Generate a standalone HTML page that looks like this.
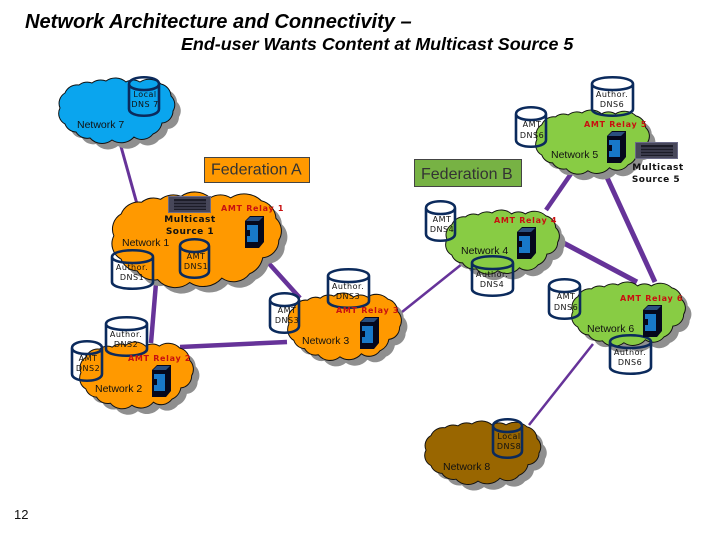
<!DOCTYPE html>
<html><head><meta charset="utf-8"><style>
html,body{margin:0;padding:0;background:#fff}
svg{display:block}
.t1{font:italic bold 20.1px "Liberation Sans",sans-serif;fill:#000}
.t2{font:italic bold 17.9px "Liberation Sans",sans-serif;fill:#000}
.n{font:10.5px "Liberation Sans",sans-serif;fill:#111}
.d{font:8px "DejaVu Sans",sans-serif;fill:#111;text-anchor:middle;letter-spacing:.5px}
.r{font:bold 8px "DejaVu Sans",sans-serif;fill:#c81010;letter-spacing:.7px}
.m{font:bold 9px "DejaVu Sans",sans-serif;fill:#111;text-anchor:middle;letter-spacing:.5px}
.f{font:16px "Liberation Sans",sans-serif;fill:#333}
</style></head><body>
<svg width="720" height="540" viewBox="0 0 720 540" xmlns="http://www.w3.org/2000/svg">
<defs>
<path id="c" d="M4 30A12 12 0 0 1 9 15A13 13 0 0 1 23 7A13 13 0 0 1 36 5A14 14 0 0 1 50 3A16 16 0 0 1 70 4A13 13 0 0 1 84 4A17 17 0 0 1 105 6A13 13 0 0 1 115 18A12 12 0 0 1 117 33A12 12 0 0 1 106 45A15 15 0 0 1 97 56A14 14 0 0 1 78 59A17 17 0 0 1 56 62A16 16 0 0 1 34 60A13 13 0 0 1 20 54A12 12 0 0 1 9 46A12 12 0 0 1 4 30Z"/>
<g id="srv">
<path d="M0 5L5 0H19V26L14 32H0Z" fill="#05081c"/>
<rect x="2" y="9" width="11" height="17" fill="#1878c8"/>
<rect x="2" y="14" width="3" height="6" fill="#05081c"/>
<path d="M1 5L5 1H18L14 5Z" fill="#2a4f80"/>
</g>
<g id="rack">
<rect width="43" height="17" fill="#47475a"/>
<rect x="6" y="3" width="32" height="11" fill="#1c1c28"/>
<path d="M6 6H38M6 9H38M6 12H38" stroke="#55556a" stroke-width="1"/>
<rect x=".5" y=".5" width="42" height="16" fill="none" stroke="#6a6a88"/>
</g>
</defs>

<!-- connectors -->
<g stroke="#663399" fill="none" stroke-linecap="butt">
<path d="M120 143L137 204" stroke-width="3"/>
<path d="M156 283L151 343" stroke-width="4.5"/>
<path d="M264 258L300 298" stroke-width="4.5"/>
<path d="M180 347L287 342" stroke-width="4.5"/>
<path d="M402 312L462 264" stroke-width="2.5"/>
<path d="M546 210L575 168" stroke-width="4.5"/>
<path d="M558 240L637 282" stroke-width="5"/>
<path d="M605 173L655 282" stroke-width="5"/>
<path d="M593 344L529 425" stroke-width="2.5"/>
</g>

<!-- shadows and clouds -->
<g fill="#8f8f8f">
<use href="#c" transform="translate(62,84)"/>
<use href="#c" transform="translate(114,198) scale(1.46,1.46)"/>
<use href="#c" transform="translate(83,348) scale(.98,1.02)"/>
<use href="#c" transform="translate(291,299) scale(.98,1.03)"/>
<use href="#c" transform="translate(449,216) scale(.98,.98)"/>
<use href="#c" transform="translate(539,116) scale(.98,.98)"/>
<use href="#c" transform="translate(575,288) scale(.98,.98)"/>
<use href="#c" transform="translate(428,427) scale(1,.97)"/>
</g>
<g stroke="#111" stroke-width="1">
<use href="#c" transform="translate(56,78)" fill="#0aa5ee"/>
<use href="#c" transform="translate(108,192) scale(1.46,1.46)" fill="#ff9900" stroke-width=".7"/>
<use href="#c" transform="translate(77,342) scale(.98,1.02)" fill="#ff9900"/>
<use href="#c" transform="translate(285,293) scale(.98,1.03)" fill="#ff9900"/>
<use href="#c" transform="translate(443,210) scale(.98,.98)" fill="#88cc44"/>
<use href="#c" transform="translate(533,110) scale(.98,.98)" fill="#88cc44"/>
<use href="#c" transform="translate(569,282) scale(.98,.98)" fill="#88cc44"/>
<use href="#c" transform="translate(422,421) scale(1,.97)" fill="#996600"/>
</g>

<!-- federation boxes -->
<rect x="204.500" y="157.500" width="105" height="25" fill="#ff9900" stroke="#444"/>
<text x="211" y="174.500" class="f">Federation A</text>
<rect x="414.500" y="159.500" width="107" height="27" fill="#77b244" stroke="#444"/>
<text x="421" y="179" class="f">Federation B</text>

<!-- cylinders -->
<g fill="none" stroke="#0b2a5c" stroke-width="2.600">
<path d="M129 84V109C129 118 159 118 159 109V84M129 84C129 75 159 75 159 84C159 92 129 92 129 84Z"/>
<path d="M592 84V109C592 118 633 118 633 109V84M592 84C592 75 633 75 633 84C633 92 592 92 592 84Z"/>
<path d="M516 114V140C516 149 546 149 546 140V114M516 114C516 105 546 105 546 114C546 122 516 122 516 114Z"/>
<path d="M426 208V234C426 243 455 243 455 234V208M426 208C426 199 455 199 455 208C455 216 426 216 426 208Z"/>
<path d="M472 263V289C472 298 513 298 513 289V263M472 263C472 254 513 254 513 263C513 271 472 271 472 263Z"/>
<path d="M549 286V312C549 321 580 321 580 312V286M549 286C549 277 580 277 580 286C580 294 549 294 549 286Z"/>
<path d="M610 342V367C610 376 651 376 651 367V342M610 342C610 333 651 333 651 342C651 350 610 350 610 342Z"/>
<path d="M493 426V451C493 460 522 460 522 451V426M493 426C493 417 522 417 522 426C522 434 493 434 493 426Z"/>
<path d="M180 246V271C180 280 209 280 209 271V246M180 246C180 237 209 237 209 246C209 254 180 254 180 246Z"/>
<path d="M112 257V282C112 291 153 291 153 282V257M112 257C112 248 153 248 153 257C153 265 112 265 112 257Z"/>
<path d="M106 324V349C106 358 147 358 147 349V324M106 324C106 315 147 315 147 324C147 332 106 332 106 324Z"/>
<path d="M72 348V374C72 383 102 383 102 374V348M72 348C72 339 102 339 102 348C102 356 72 356 72 348Z"/>
<path d="M270 300V326C270 335 299 335 299 326V300M270 300C270 291 299 291 299 300C299 308 270 308 270 300Z"/>
<path d="M328 276V301C328 310 369 310 369 301V276M328 276C328 267 369 267 369 276C369 284 328 284 328 276Z"/>
</g>

<!-- servers and racks -->
<use href="#srv" x="245" y="216"/>
<use href="#srv" x="152" y="365"/>
<use href="#srv" x="360" y="317"/>
<use href="#srv" x="517" y="227"/>
<use href="#srv" x="607" y="131"/>
<use href="#srv" x="643" y="305"/>
<use href="#rack" x="168" y="196"/>
<use href="#rack" x="635" y="142"/>

<!-- titles -->
<text x="25" y="28" class="t1">Network Architecture and Connectivity –</text>
<text x="181" y="50" class="t2">End-user Wants Content at Multicast Source 5</text>
<text x="14" y="519" font-family="Liberation Sans, sans-serif" font-size="13" fill="#111">12</text>

<!-- network labels -->
<text x="77" y="128" class="n">Network 7</text>
<text x="122" y="246" class="n">Network 1</text>
<text x="95" y="392" class="n">Network 2</text>
<text x="302" y="344" class="n">Network 3</text>
<text x="461" y="254" class="n">Network 4</text>
<text x="551" y="158" class="n">Network 5</text>
<text x="587" y="332" class="n">Network 6</text>
<text x="443" y="470" class="n">Network 8</text>

<!-- relays -->
<text x="221" y="211" class="r">AMT Relay 1</text>
<text x="128" y="361" class="r">AMT Relay 2</text>
<text x="336" y="313" class="r">AMT Relay 3</text>
<text x="494" y="223" class="r">AMT Relay 4</text>
<text x="584" y="127" class="r">AMT Relay 5</text>
<text x="620" y="301" class="r">AMT Relay 6</text>

<text x="190" y="222" class="m">Multicast</text>
<text x="190" y="234" class="m">Source 1</text>
<text x="658" y="170" class="m">Multicast</text>
<text x="656" y="182" class="m">Source 5</text>

<!-- dns labels -->
<g class="d">
<text class="d" x="145" y="97">Local</text><text class="d" x="145" y="107">DNS 7</text>
<text class="d" x="612" y="97">Author.</text><text class="d" x="612" y="107">DNS6</text>
<text class="d" x="532" y="127">AMT</text><text class="d" x="532" y="138">DNS6</text>
<text class="d" x="442" y="222">AMT</text><text class="d" x="442" y="232">DNS4</text>
<text class="d" x="492" y="277">Author.</text><text class="d" x="492" y="287">DNS4</text>
<text class="d" x="566" y="299">AMT</text><text class="d" x="566" y="310">DNS6</text>
<text class="d" x="630" y="355">Author.</text><text class="d" x="630" y="365">DNS6</text>
<text class="d" x="509" y="439">Local</text><text class="d" x="509" y="449">DNS8</text>
<text class="d" x="196" y="259">AMT</text><text class="d" x="196" y="269">DNS1</text>
<text class="d" x="132" y="270">Author.</text><text class="d" x="132" y="280">DNS1</text>
<text class="d" x="126" y="337">Author.</text><text class="d" x="126" y="347">DNS2</text>
<text class="d" x="88" y="361">AMT</text><text class="d" x="88" y="371">DNS2</text>
<text class="d" x="287" y="313">AMT</text><text class="d" x="287" y="323">DNS3</text>
<text class="d" x="348" y="289">Author.</text><text class="d" x="348" y="299">DNS3</text>
</g>
</svg>
</body></html>
